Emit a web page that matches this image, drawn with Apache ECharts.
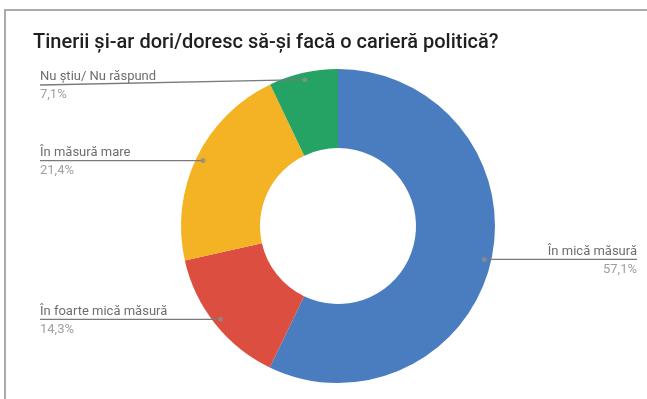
<!DOCTYPE html>
<html>
<head>
<meta charset="utf-8">
<script src="https://cdn.jsdelivr.net/npm/echarts@6/dist/echarts.min.js"></script>
<style>
  html, body { margin: 0; padding: 0; background: #fff; }
  #wrap { position: relative; width: 647px; height: 399px; overflow: hidden; }
  #chart { position: absolute; left: 0; top: 0; width: 647px; height: 399px; }
  #frame {
    position: absolute; left: 4px; top: 9px; right: -4px; bottom: -4px;
    border-top: 2px solid #ababab; border-left: 2px solid #ababab;
    pointer-events: none;
  }
</style>
</head>
<body>
<div id="wrap">
  <div id="chart"></div>
  <div id="frame"></div>
</div>
<script>
// Survey answers, in percent
const categories = ['În mică măsură', 'În foarte mică măsură', 'În măsură mare', 'Nu știu/ Nu răspund'];
const percentages = [57.1, 14.3, 21.4, 7.1];
const sliceColors = ['#4a7dc0', '#dc4e3f', '#f4b324', '#24a365'];
const titleText = 'Tinerii și-ar dori/doresc să-și facă o carieră politică?';

// Layout of the ring
const CX = 338, CY = 226;
const OUTER_R = 157, INNER_R = 78, MARKER_R = 150;
const LEFT_EDGE = 40, RIGHT_EDGE = 637;
const LABEL_TOP = 85; // label lines stay below the title

const total = percentages.reduce((a, b) => a + b, 0);
const pieData = categories.map((name, i) => ({
  name, value: percentages[i], itemStyle: { color: sliceColors[i] }
}));

// Middle of every slice along the angle axis, for the small markers
let running = 0;
const markerData = percentages.map(v => {
  const mid = running + v / 2;
  running += v;
  return [1, mid];
});

const fmt = v => String(v).replace('.', ',') + '%';

const chart = echarts.init(document.getElementById('chart'), null, { renderer: 'canvas' });
chart.setOption({
  animation: false,
  backgroundColor: '#fff',
  title: {
    text: titleText,
    left: 28,
    top: 28,
    textStyle: { fontFamily: 'Roboto', fontSize: 20, fontWeight: 500, color: '#1f1f1f' }
  },
  polar: { center: [CX, CY], radius: MARKER_R },
  angleAxis: { type: 'value', min: 0, max: total, startAngle: 90, clockwise: true, show: false },
  radiusAxis: { type: 'value', min: 0, max: 1, show: false },
  series: [
    {
      type: 'pie',
      center: [CX, CY],
      radius: [INNER_R, OUTER_R],
      startAngle: 90,
      clockwise: true,
      silent: true,
      label: { show: false },
      labelLine: { show: false },
      itemStyle: { borderWidth: 0 },
      data: pieData,
      z: 1
    },
    {
      type: 'pie',
      center: [CX, CY],
      radius: [0, MARKER_R],
      startAngle: 90,
      clockwise: true,
      silent: true,
      avoidLabelOverlap: false,
      itemStyle: { color: 'rgba(0,0,0,0)', borderWidth: 0 },
      label: {
        show: true,
        position: 'outside',
        fontFamily: 'Roboto',
        formatter: p => `{n|${p.name}}\n{v|${fmt(p.value)}}`,
        rich: {
          n: { fontFamily: 'Roboto', fontSize: 13, lineHeight: 18, color: '#6e6e6e' },
          v: { fontFamily: 'Roboto', fontSize: 13, lineHeight: 18, color: '#a0a0a0' }
        }
      },
      labelLine: {
        show: true, length: 10, length2: 10, smooth: false,
        lineStyle: { color: '#7a7a7a', width: 1.3 }
      },
      labelLayout: params => {
        const start = params.labelLinePoints[0];
        const left = start[0] < CX;
        const endX = left ? LEFT_EDGE : RIGHT_EDGE;
        const lineY = Math.max(start[1], LABEL_TOP);
        return {
          x: endX,
          y: lineY + 1,
          align: left ? 'left' : 'right',
          verticalAlign: 'middle',
          labelLinePoints: [start, [endX, lineY]]
        };
      },
      data: categories.map((name, i) => ({ name, value: percentages[i] })),
      z: 2
    },
    {
      type: 'scatter',
      coordinateSystem: 'polar',
      symbol: 'circle',
      symbolSize: 5,
      silent: true,
      itemStyle: { color: '#8c8c8c' },
      data: markerData,
      z: 3
    }
  ]
});
</script>
</body>
</html>
